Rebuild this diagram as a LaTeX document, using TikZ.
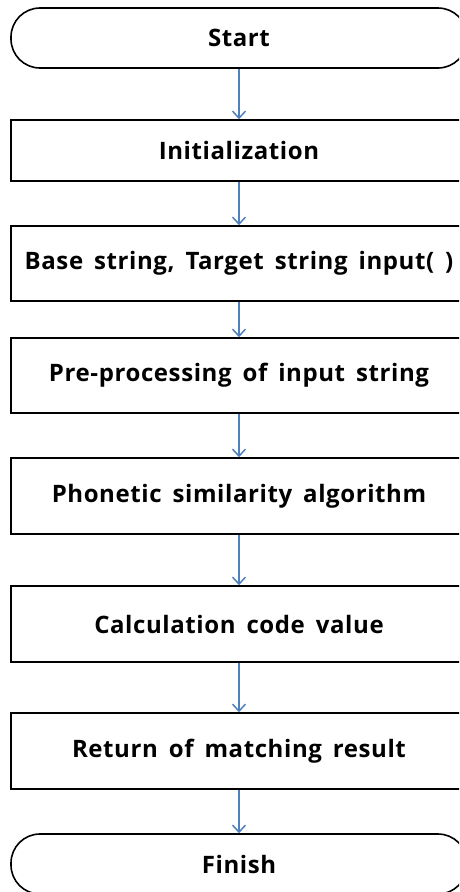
\documentclass[tikz,border=0pt]{standalone}
\usepackage{fontspec}
\setmainfont{Open Sans}[BoldFont={* Bold},LetterSpace=2.5,WordSpace=1.6]
\usepackage{tikz}
\usetikzlibrary{arrows.meta,positioning}
\definecolor{flowblue}{RGB}{79,129,189}
\tikzset{
  stepbox/.style={draw=black,line width=1.6pt,minimum width=456pt,font=\fontsize{24}{28}\selectfont\bfseries},
  termbox/.style={stepbox,rounded corners=29pt,minimum height=60pt},
  flow/.style={draw=flowblue,line width=1.5pt,-{Straight Barb[length=7pt,width=13pt,line width=1.5pt]}}
}

\begin{document}
\begin{tikzpicture}[x=1pt,y=-1pt]
  \clip (0,0) rectangle (459,892);
  \node[termbox] (start) at (239,38) {Start};
  \node[stepbox,minimum height=61pt] (init) at (239,150.5) {Initialization};
  \node[stepbox,minimum height=75pt] (input) at (239,263.5) {Base string, Target string input( )};
  \node[stepbox,minimum height=75pt] (prep) at (239,375.5) {Pre-processing of input string};
  \node[stepbox,minimum height=76pt] (phon) at (239,496) {Phonetic similarity algorithm};
  \node[stepbox,minimum height=76pt] (calc) at (239,624) {Calculation code value};
  \node[stepbox,minimum height=76pt] (ret) at (239,751) {Return of matching result};
  \node[termbox] (finish) at (239,864) {Finish};
  \foreach \a/\b in {start/init,init/input,input/prep,prep/phon,phon/calc,calc/ret,ret/finish}
    \draw[flow] (\a) -- (\b);
\end{tikzpicture}
\end{document}
